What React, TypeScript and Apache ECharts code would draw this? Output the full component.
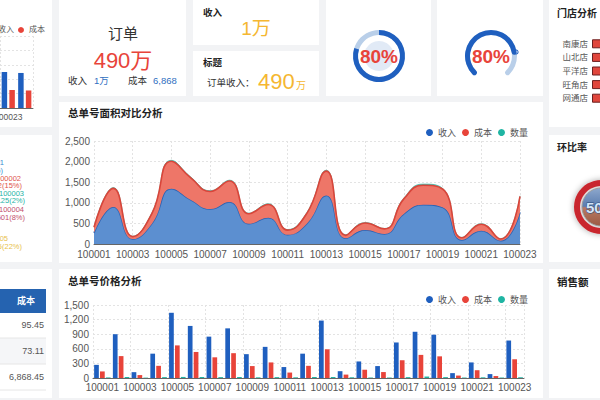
import { useEffect, useRef } from 'react';
import * as echarts from 'echarts';

const FONT = "'Liberation Sans', 'Noto Sans CJK SC', sans-serif";

// ---------- data ----------
const orderNos = ['100001', '100002', '100003', '100004', '100005', '100006', '100007', '100008', '100009', '100010', '100011', '100012', '100013', '100014', '100015', '100016', '100017', '100018', '100019', '100020', '100021', '100022', '100023'];
const revenue = [270, 900, 120, 500, 1340, 1070, 850, 1020, 490, 640, 225, 500, 1180, 140, 340, 245, 730, 950, 890, 100, 320, 80, 770];
const cost = [135, 450, 60, 250, 670, 535, 425, 510, 245, 320, 112, 250, 590, 70, 170, 122, 365, 475, 445, 50, 160, 40, 385];
const quantity = [12, 20, 8, 18, 22, 20, 18, 20, 14, 18, 14, 20, 20, 15, 10, 10, 18, 30, 18, 10, 14, 10, 15];
const seriesNames = ['收入', '成本', '数量'];

const topLeftNos = ['100023', '100024'];
const topLeftRevenue = [750, 730];
const topLeftCost = [375, 365];

const stores = ['南康店', '山北店', '平洋店', '旺角店', '网通店'];
const storeSales = [820, 760, 700, 640, 580];

const orderTotalWan = 490;
const incomeWan = 1;
const costTotal = 6868;
const gaugeValues = [80, 80];
const ratioValue = 50;

const pieNames = ['100001', '100002', '100003', '100004', '100005'];
const pieValues = [1026, 932, 125, 501, 1375];
const piePercents = [16, 15, 2, 8, 22];
const pieColors = ['#3b8ccf', '#e0534a', '#26b3a6', '#c24d6c', '#e8c14a'];

const tableHeader = '成本';
const tableCosts = [95.45, 73.11, 6868.45];

// ---------- layout (not data) ----------
const cards: number[][] = [
  [0, 0, 52, 127],
  [59, 0, 127, 96],
  [193, 0, 126, 45],
  [193, 51, 126, 45],
  [326, 0, 105, 96],
  [437, 0, 106, 96],
  [549, 0, 51, 127],
  [0, 135, 52, 127],
  [59, 102, 484, 161],
  [549, 135, 51, 127],
  [0, 269, 52, 129],
  [59, 269, 484, 129],
  [549, 269, 51, 129],
];
// [nameX, nameY, valueX, valueY] anchors (right aligned)
const pieLabelAnchors: number[][] = [
  [4, 162, 3, 170],
  [21, 178, 22, 185],
  [24, 193, 25, 200],
  [24, 209, 25, 217],
  [8, 238, 22, 246],
];

const BLUE = '#1f5fbf';
const RED = '#e8443a';
const TEAL = '#1fb5a3';
const YELLOW = '#f5b731';

const txt = (text: string, x: number, y: number, opts: any = {}) => ({
  type: 'text',
  x,
  y,
  z: 100,
  style: {
    text,
    fill: '#333',
    fontSize: 10,
    fontFamily: FONT,
    align: 'left',
    verticalAlign: 'middle',
    ...opts,
  },
});

const dash = { type: [2, 2], color: '#e3e3e3' };

export default function App() {
  const ref = useRef<HTMLDivElement>(null);
  useEffect(() => {
    if (!ref.current) return;
    const chart = echarts.init(ref.current, undefined, { renderer: 'svg' });

    const graphics: any[] = [];
    cards.forEach(([x, y, w, h]) =>
      graphics.push({ type: 'rect', z: -10, shape: { x, y, width: w, height: h }, style: { fill: '#ffffff' } })
    );

    // order card
    graphics.push(txt('订单', 123, 33, { fontSize: 15, align: 'center' }));
    graphics.push(txt(`${orderTotalWan}万`, 123, 60, { fontSize: 22, align: 'center', fill: RED }));
    graphics.push(txt('收入', 68, 80, { fontSize: 9.5 }));
    graphics.push(txt(`${incomeWan}万`, 94, 80, { fontSize: 9.5, fill: '#2f6fbf' }));
    graphics.push(txt('成本', 128, 80, { fontSize: 9.5 }));
    graphics.push(txt(costTotal.toLocaleString('en-US'), 153, 80, { fontSize: 9.5, fill: '#2f6fbf' }));

    // income card
    graphics.push(txt('收入', 203, 12, { fontWeight: 'bold', fontSize: 9.5, fill: '#222' }));
    graphics.push(txt(`${incomeWan}万`, 256, 28, { fontSize: 19, align: 'center', fill: YELLOW }));
    // title card
    graphics.push(txt('标题', 203, 62, { fontWeight: 'bold', fontSize: 9.5, fill: '#222' }));
    graphics.push(txt('订单收入：', 207, 82, { fontSize: 9.5 }));
    graphics.push(txt(String(orderTotalWan), 258, 81, { fontSize: 22, fill: YELLOW }));
    graphics.push(txt('万', 296, 85, { fontSize: 10, fill: YELLOW }));

    // gauge 1 inner pale disc
    graphics.push({ type: 'circle', z: 1, shape: { cx: 379, cy: 56, r: 15 }, style: { fill: '#e1eaf6' } });

    // titles
    graphics.push(txt('门店分析', 557, 13, { fontWeight: 'bold', fontSize: 10, fill: '#222' }));
    graphics.push(txt('总单号面积对比分析', 68, 113, { fontWeight: 'bold', fontSize: 10.5, fill: '#222' }));
    graphics.push(txt('环比率', 557, 147, { fontWeight: 'bold', fontSize: 10, fill: '#222' }));
    graphics.push(txt('总单号价格分析', 68, 281, { fontWeight: 'bold', fontSize: 10.5, fill: '#222' }));
    graphics.push(txt('销售额', 557, 282, { fontWeight: 'bold', fontSize: 10.5, fill: '#222' }));

    // pie labels (pie itself is outside the view)
    pieNames.forEach((n, i) => {
      const [nx, ny, vx, vy] = pieLabelAnchors[i];
      graphics.push(txt(n, nx, ny, { fontSize: 7.5, align: 'right', fill: pieColors[i] }));
      graphics.push(
        txt(`${pieValues[i].toLocaleString('en-US')}(${piePercents[i]}%)`, vx, vy, {
          fontSize: 7.5,
          align: 'right',
          fill: pieColors[i],
        })
      );
    });

    // table
    graphics.push({ type: 'rect', z: 1, shape: { x: 0, y: 289, width: 46, height: 24 }, style: { fill: '#2563b0' } });
    graphics.push(txt(tableHeader, 26, 301, { fontSize: 9, fontWeight: 'bold', align: 'center', fill: '#fff' }));
    tableCosts.forEach((v, i) => {
      const top = 312 + i * 26;
      if (i % 2 === 1)
        graphics.push({ type: 'rect', z: 1, shape: { x: 0, y: top, width: 46, height: 26 }, style: { fill: '#f5f6f8' } });
      graphics.push({
        type: 'line',
        z: 2,
        shape: { x1: 0, y1: top + 26, x2: 46, y2: top + 26 },
        style: { stroke: '#e6e6e6', lineWidth: 1 },
      });
      graphics.push(
        txt(v.toLocaleString('en-US', { minimumFractionDigits: 2 }), 44, top + 13, {
          fontSize: 9,
          align: 'right',
          fill: '#555',
        })
      );
    });

    // ring ratio
    graphics.push({
      type: 'ring',
      z: 5,
      shape: { cx: 601, cy: 207, r: 27, r0: 21 },
      style: { fill: '#c9282e', shadowBlur: 6, shadowColor: 'rgba(0,0,0,0.35)' },
    });
    graphics.push({
      type: 'circle',
      z: 6,
      shape: { cx: 601, cy: 207, r: 19 },
      style: {
        fill: new echarts.graphic.LinearGradient(0, 0, 0, 1, [
          { offset: 0, color: '#8ea8cc' },
          { offset: 0.48, color: '#5b7db0' },
          { offset: 0.52, color: '#b77a62' },
          { offset: 1, color: '#9c5a45' },
        ]),
        stroke: '#9a9a9a',
        lineWidth: 1,
      },
    });
    graphics.push(
      txt(`${ratioValue}%`, 601, 207, {
        fontSize: 15,
        fontWeight: 'bold',
        align: 'center',
        fill: '#d4e6f8',
        stroke: '#2a4a7a',
        lineWidth: 1,
      })
    );

    const axisLbl = { color: '#555', fontSize: 10, fontFamily: FONT };
    const legendCommon = {
      icon: 'circle',
      itemWidth: 7,
      itemHeight: 7,
      itemGap: 6,
      textStyle: { fontSize: 9, color: '#555', fontFamily: FONT },
    };

    const gaugeBase = (center: number[], value: number, start: number, end: number, round: boolean) => ({
      type: 'gauge',
      center,
      radius: 26,
      startAngle: start,
      endAngle: end,
      min: 0,
      max: 100,
      z: 3,
      progress: { show: true, width: 5, roundCap: round, itemStyle: { color: BLUE } },
      axisLine: { roundCap: round, lineStyle: { width: 5, color: [[1, '#b9cfe9']] } },
      axisTick: { show: false },
      splitLine: { show: false },
      axisLabel: { show: false },
      pointer: round
        ? {
            show: true,
            icon: 'circle',
            length: 4,
            width: 4,
            offsetCenter: [0, '-90%'],
            itemStyle: { color: '#fff', borderColor: BLUE, borderWidth: 1 },
          }
        : { show: false },
      anchor: { show: false },
      title: { show: false },
      detail: {
        formatter: '{value}%',
        color: RED,
        fontSize: 19,
        fontWeight: 'bold',
        fontFamily: FONT,
        offsetCenter: [0, 0],
      },
      data: [{ value }],
    });

    const gridBase = { outerBoundsMode: 'none', containLabel: false };

    chart.setOption({
      animation: false,
      backgroundColor: '#f2f3f5',
      textStyle: { fontFamily: FONT },
      graphic: { elements: graphics },
      legend: [
        {
          ...legendCommon,
          orient: 'horizontal',
          data: ['收入', '成本'],
          left: -18,
          top: 21,
          itemWidth: 6,
          itemHeight: 6,
          itemGap: 4,
          textStyle: { fontSize: 8, color: '#555', fontFamily: FONT },
        },
        { ...legendCommon, data: seriesNames, right: 67, top: 123 },
        { ...legendCommon, data: seriesNames, right: 67, top: 290 },
      ],
      grid: [
        { ...gridBase, left: 0, top: 36, width: 33, height: 72 },
        { ...gridBase, left: 94, top: 141, width: 426, height: 103 },
        { ...gridBase, left: 93, top: 305, width: 431, height: 73 },
        { ...gridBase, left: 592, top: 37, width: 150, height: 68 },
      ],
      xAxis: [
        {
          type: 'category',
          gridIndex: 0,
          data: topLeftNos,
          axisLabel: { ...axisLbl, fontSize: 8.5, interval: 1, margin: 5 },
          axisTick: { show: false },
          axisLine: { lineStyle: { color: '#666' } },
          splitLine: { show: true, interval: 1, lineStyle: dash },
        },
        {
          type: 'category',
          gridIndex: 1,
          data: orderNos,
          boundaryGap: false,
          axisLabel: { ...axisLbl, interval: 1, margin: 5 },
          axisTick: { show: false },
          axisLine: { lineStyle: { color: '#666' } },
          splitLine: { show: true, interval: 1, lineStyle: dash },
        },
        {
          type: 'category',
          gridIndex: 2,
          data: orderNos,
          axisLabel: { ...axisLbl, interval: 1, margin: 4 },
          axisTick: { show: false },
          axisLine: { lineStyle: { color: '#666' } },
          splitLine: { show: true, interval: 1, lineStyle: dash },
        },
        { type: 'value', gridIndex: 3, min: 0, max: 1000, show: false },
      ],
      yAxis: [
        {
          type: 'value',
          gridIndex: 0,
          min: 0,
          max: 1500,
          interval: 300,
          axisLabel: { show: false },
          splitLine: { lineStyle: dash },
        },
        {
          type: 'value',
          gridIndex: 1,
          min: 0,
          max: 2500,
          interval: 500,
          axisLabel: { ...axisLbl, margin: 4 },
          axisLine: { show: false },
          axisTick: { show: false },
          splitLine: { lineStyle: dash },
        },
        {
          type: 'value',
          gridIndex: 2,
          min: 0,
          max: 1500,
          interval: 300,
          axisLabel: { ...axisLbl, margin: 4 },
          axisLine: { show: false },
          axisTick: { show: false },
          splitLine: { lineStyle: dash },
        },
        {
          type: 'category',
          gridIndex: 3,
          data: stores,
          inverse: true,
          axisLabel: { ...axisLbl, fontSize: 8.5, margin: 4 },
          axisLine: { show: false },
          axisTick: { show: false },
        },
      ],
      series: [
        {
          name: '收入',
          type: 'bar',
          xAxisIndex: 0,
          yAxisIndex: 0,
          data: topLeftRevenue,
          itemStyle: { color: BLUE },
          barGap: '40%',
          barCategoryGap: '20%',
        },
        { name: '成本', type: 'bar', xAxisIndex: 0, yAxisIndex: 0, data: topLeftCost, itemStyle: { color: RED } },
        {
          name: '收入',
          type: 'line',
          xAxisIndex: 1,
          yAxisIndex: 1,
          stack: 'area',
          smooth: true,
          symbol: 'none',
          z: 2,
          data: revenue,
          itemStyle: { color: BLUE },
          lineStyle: { color: '#2a63b5', width: 1.5 },
          areaStyle: { color: '#5c8fd0', opacity: 1 },
        },
        {
          name: '成本',
          type: 'line',
          xAxisIndex: 1,
          yAxisIndex: 1,
          stack: 'area',
          smooth: true,
          symbol: 'none',
          z: 4,
          data: cost,
          itemStyle: { color: RED },
          lineStyle: { color: '#d9453a', width: 1.6 },
          areaStyle: { color: '#ee7668', opacity: 1 },
        },
        {
          name: '数量',
          type: 'line',
          xAxisIndex: 1,
          yAxisIndex: 1,
          stack: 'area',
          smooth: true,
          symbol: 'none',
          z: 3,
          data: quantity,
          itemStyle: { color: TEAL },
          lineStyle: { color: TEAL, width: 0.6 },
          areaStyle: { color: '#5cc9ba', opacity: 1 },
        },
        {
          name: '收入',
          type: 'bar',
          xAxisIndex: 2,
          yAxisIndex: 2,
          data: revenue,
          itemStyle: { color: BLUE },
          barGap: '25%',
          barCategoryGap: '12%',
        },
        { name: '成本', type: 'bar', xAxisIndex: 2, yAxisIndex: 2, data: cost, itemStyle: { color: RED } },
        { name: '数量', type: 'bar', xAxisIndex: 2, yAxisIndex: 2, data: quantity, itemStyle: { color: TEAL } },
        {
          name: '门店',
          type: 'bar',
          xAxisIndex: 3,
          yAxisIndex: 3,
          data: storeSales,
          barWidth: 9,
          itemStyle: { color: '#e0463c', borderColor: '#6b1f1f', borderWidth: 1 },
        },
        gaugeBase([379, 56], gaugeValues[0], 90, -270, false),
        gaugeBase([491, 56], gaugeValues[1], 225, -45, true),
      ],
    });
    return () => chart.dispose();
  }, []);
  return <div ref={ref} style={{ position: 'fixed', left: 0, top: 0, width: 600, height: 400 }} />;
}
